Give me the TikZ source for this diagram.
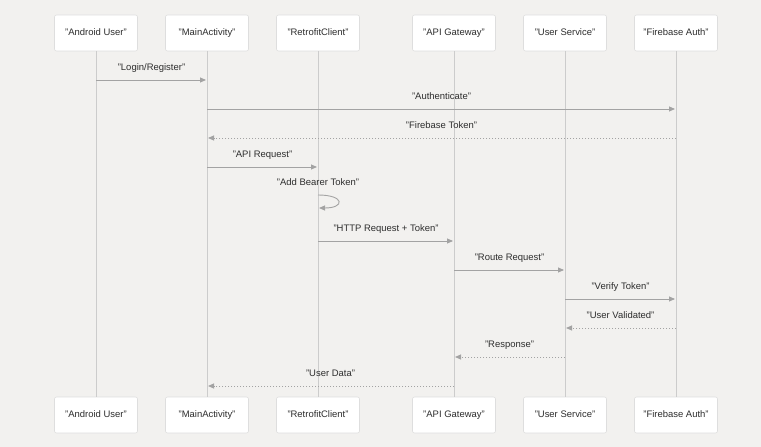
\documentclass[tikz,border=0pt]{standalone}
\usepackage{fontspec}
\setmainfont{Liberation Sans}
\usetikzlibrary{arrows.meta,positioning}
\definecolor{bgcol}{HTML}{F2F1EF}
\definecolor{boxline}{HTML}{DEDEDE}
\definecolor{lifecol}{HTML}{CCCCCC}
\definecolor{msgcol}{HTML}{A3A3A3}
\definecolor{txtcol}{HTML}{2E2E2E}

\begin{document}
\begin{tikzpicture}[
        x=1bp, y=-1bp,
        >={Triangle[length=6bp,width=5bp]},
        font=\fontsize{9.5}{11}\selectfont,
        actor/.style={draw=boxline, fill=white, rounded corners=2bp,
            minimum width=83bp, minimum height=36bp, text=txtcol, line width=0.6bp,
            text height=7bp, text depth=2bp},
        life/.style={draw=lifecol, line width=0.8bp},
        msg/.style={->, draw=msgcol, line width=0.9bp, shorten >=1bp},
        reply/.style={msg, dash pattern=on 1.5bp off 1.5bp},
        lbl/.style={above=4bp, text=txtcol, text height=7bp, text depth=2bp}
        ]
        \fill[bgcol] (0,0) rectangle (761,447);

        % participants, top and bottom, with lifelines
        \foreach \n/\x/\t in {user/96/Android User, main/207/MainActivity,
                retro/318/RetrofitClient, gw/454/API Gateway,
                svc/565/User Service, fba/676/Firebase Auth} {
            \node[actor] (\n) at (\x,33) {"\t"};
            \node[actor] (\n-b) at (\x,415) {"\t"};
            \draw[life] (\n) -- (\n-b);
        }

        % message rows
        \foreach \i/\y in {1/80, 2/109, 3/138, 4/167, 5/195, 5b/208,
                6/241, 7/270, 8/299, 9/328, 10/357, 11/386}
            \coordinate (r\i) at (0,\y);

        \draw[msg] (user |- r1) -- node[lbl] {"Login/Register"} (main |- r1);
        \draw[msg] (main |- r2) -- node[lbl] {"Authenticate"} (fba |- r2);
        \draw[reply] (fba |- r3) -- node[lbl] {"Firebase Token"} (main |- r3);
        \draw[msg] (main |- r4) -- node[lbl] {"API Request"} (retro |- r4);
        \draw[msg] (retro |- r5) node[lbl] {"Add Bearer Token"}
            .. controls +(27,0) and +(27,0) .. (retro |- r5b);
        \draw[msg] (retro |- r6) -- node[lbl] {"HTTP Request + Token"} (gw |- r6);
        \draw[msg] (gw |- r7) -- node[lbl] {"Route Request"} (svc |- r7);
        \draw[msg] (svc |- r8) -- node[lbl] {"Verify Token"} (fba |- r8);
        \draw[reply] (fba |- r9) -- node[lbl] {"User Validated"} (svc |- r9);
        \draw[reply] (svc |- r10) -- node[lbl] {"Response"} (gw |- r10);
        \draw[reply] (gw |- r11) -- node[lbl] {"User Data"} (main |- r11);
\end{tikzpicture}
\end{document}
